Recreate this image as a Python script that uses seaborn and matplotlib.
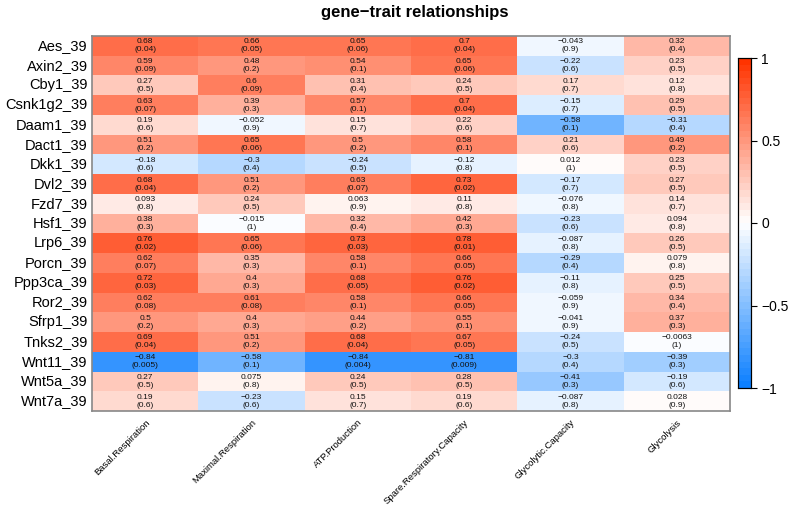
import numpy as np
import pandas as pd
import matplotlib
matplotlib.use("Agg")
import matplotlib.pyplot as plt
from matplotlib.colors import LinearSegmentedColormap
import seaborn as sns

genes = ["Aes_39", "Axin2_39", "Cby1_39", "Csnk1g2_39", "Daam1_39", "Dact1_39", "Dkk1_39",
         "Dvl2_39", "Fzd7_39", "Hsf1_39", "Lrp6_39", "Porcn_39", "Ppp3ca_39", "Ror2_39",
         "Sfrp1_39", "Tnks2_39", "Wnt11_39", "Wnt5a_39", "Wnt7a_39"]
traits = ["Basal.Respiration", "Maximal.Respiration", "ATP.Production",
          "Spare.Respiratory.Capacity", "Glycolytic.Capacity", "Glycolysis"]

cor_basal = [0.68, 0.59, 0.27, 0.63, 0.19, 0.51, -0.18, 0.68, 0.093, 0.38, 0.76, 0.62, 0.72, 0.62, 0.5, 0.69, -0.84, 0.27, 0.19]
cor_maximal = [0.66, 0.48, 0.6, 0.39, -0.052, 0.65, -0.3, 0.51, 0.24, -0.015, 0.65, 0.35, 0.4, 0.61, 0.4, 0.51, -0.58, 0.075, -0.23]
cor_atp = [0.65, 0.54, 0.31, 0.57, 0.15, 0.5, -0.24, 0.63, 0.063, 0.32, 0.73, 0.58, 0.68, 0.58, 0.44, 0.68, -0.84, 0.24, 0.15]
cor_spare = [0.7, 0.65, 0.24, 0.7, 0.22, 0.58, -0.12, 0.73, 0.11, 0.42, 0.78, 0.66, 0.76, 0.66, 0.55, 0.67, -0.81, 0.28, 0.19]
cor_glycap = [-0.043, -0.22, 0.17, -0.15, -0.58, 0.21, 0.012, -0.17, -0.076, -0.23, -0.087, -0.29, -0.11, -0.059, -0.041, -0.24, -0.3, -0.41, -0.087]
cor_glyc = [0.32, 0.23, 0.12, 0.29, -0.31, 0.49, 0.23, 0.27, 0.14, 0.094, 0.26, 0.079, 0.25, 0.34, 0.37, -0.0063, -0.39, -0.19, 0.028]

p_basal = ["0.04", "0.09", "0.5", "0.07", "0.6", "0.2", "0.6", "0.04", "0.8", "0.3", "0.02", "0.07", "0.03", "0.08", "0.2", "0.04", "0.005", "0.5", "0.6"]
p_maximal = ["0.05", "0.2", "0.09", "0.3", "0.9", "0.06", "0.4", "0.2", "0.5", "1", "0.06", "0.3", "0.3", "0.08", "0.3", "0.2", "0.1", "0.8", "0.6"]
p_atp = ["0.06", "0.1", "0.4", "0.1", "0.7", "0.2", "0.5", "0.07", "0.9", "0.4", "0.03", "0.1", "0.05", "0.1", "0.2", "0.04", "0.004", "0.5", "0.7"]
p_spare = ["0.04", "0.06", "0.5", "0.04", "0.6", "0.1", "0.8", "0.02", "0.8", "0.3", "0.01", "0.05", "0.02", "0.05", "0.1", "0.05", "0.009", "0.5", "0.6"]
p_glycap = ["0.9", "0.6", "0.7", "0.7", "0.1", "0.6", "1", "0.7", "0.8", "0.6", "0.8", "0.4", "0.8", "0.9", "0.9", "0.5", "0.4", "0.3", "0.8"]
p_glyc = ["0.4", "0.5", "0.8", "0.5", "0.4", "0.2", "0.5", "0.5", "0.7", "0.8", "0.5", "0.8", "0.5", "0.4", "0.3", "1", "0.3", "0.6", "0.9"]

cors = np.array([cor_basal, cor_maximal, cor_atp, cor_spare, cor_glycap, cor_glyc]).T
pvals = np.array([p_basal, p_maximal, p_atp, p_spare, p_glycap, p_glyc]).T

df = pd.DataFrame(cors, index=genes, columns=traits)

def fmt(v):
    s = ("%g" % v)
    return s.replace("-", "\u2212")

annot = np.empty(cors.shape, dtype=object)
for i in range(cors.shape[0]):
    for j in range(cors.shape[1]):
        annot[i, j] = fmt(cors[i, j]) + "\n(" + pvals[i, j] + ")"

cmap = LinearSegmentedColormap.from_list(
    "bwr_wgcna", [(0.05, 0.5, 1.0), (1.0, 1.0, 1.0), (1.0, 0.2, 0.0)], N=50)

plt.rcParams['font.family'] = ['Liberation Sans', 'DejaVu Sans']
fig = plt.figure(figsize=(7.94, 5.09), dpi=100)
W, H = 794, 509
ax = fig.add_axes([92 / W, 1 - 411 / H, (730 - 92) / W, (411 - 36) / H])
cax = fig.add_axes([738 / W, 1 - 388 / H, 13 / W, 330 / H])

sns.heatmap(df, ax=ax, cbar_ax=cax, cmap=cmap, vmin=-1, vmax=1,
            annot=annot, fmt="", annot_kws={"fontsize": 6, "color": "#111111", "linespacing": 1.2},
            cbar_kws={"ticks": [-1, -0.5, 0, 0.5, 1]})

ax.set_xlabel("")
ax.set_ylabel("")
ax.tick_params(axis="both", length=0)
ax.set_yticklabels(genes, rotation=0, fontsize=10.5)
ax.set_xticklabels(traits, rotation=45, ha="right", rotation_mode="anchor", fontsize=6.8)
ax.tick_params(axis="x", pad=5)
ax.tick_params(axis="y", pad=3)
for sp in ax.spines.values():
    sp.set_visible(True)
    sp.set_color("#888888")
    sp.set_linewidth(1.2)

cax.set_yticklabels(["\u22121", "\u22120.5", "0", "0.5", "1"])
cax.tick_params(labelsize=10, length=4, width=0.8)
for sp in cax.spines.values():
    sp.set_visible(True)
    sp.set_color("black")
    sp.set_linewidth(0.8)

fig.text(415 / W, 1 - 12 / H, "gene\u2212trait relationships", ha="center", va="center",
         fontsize=12, fontweight="bold")

fig.savefig("out.png", dpi=100)
